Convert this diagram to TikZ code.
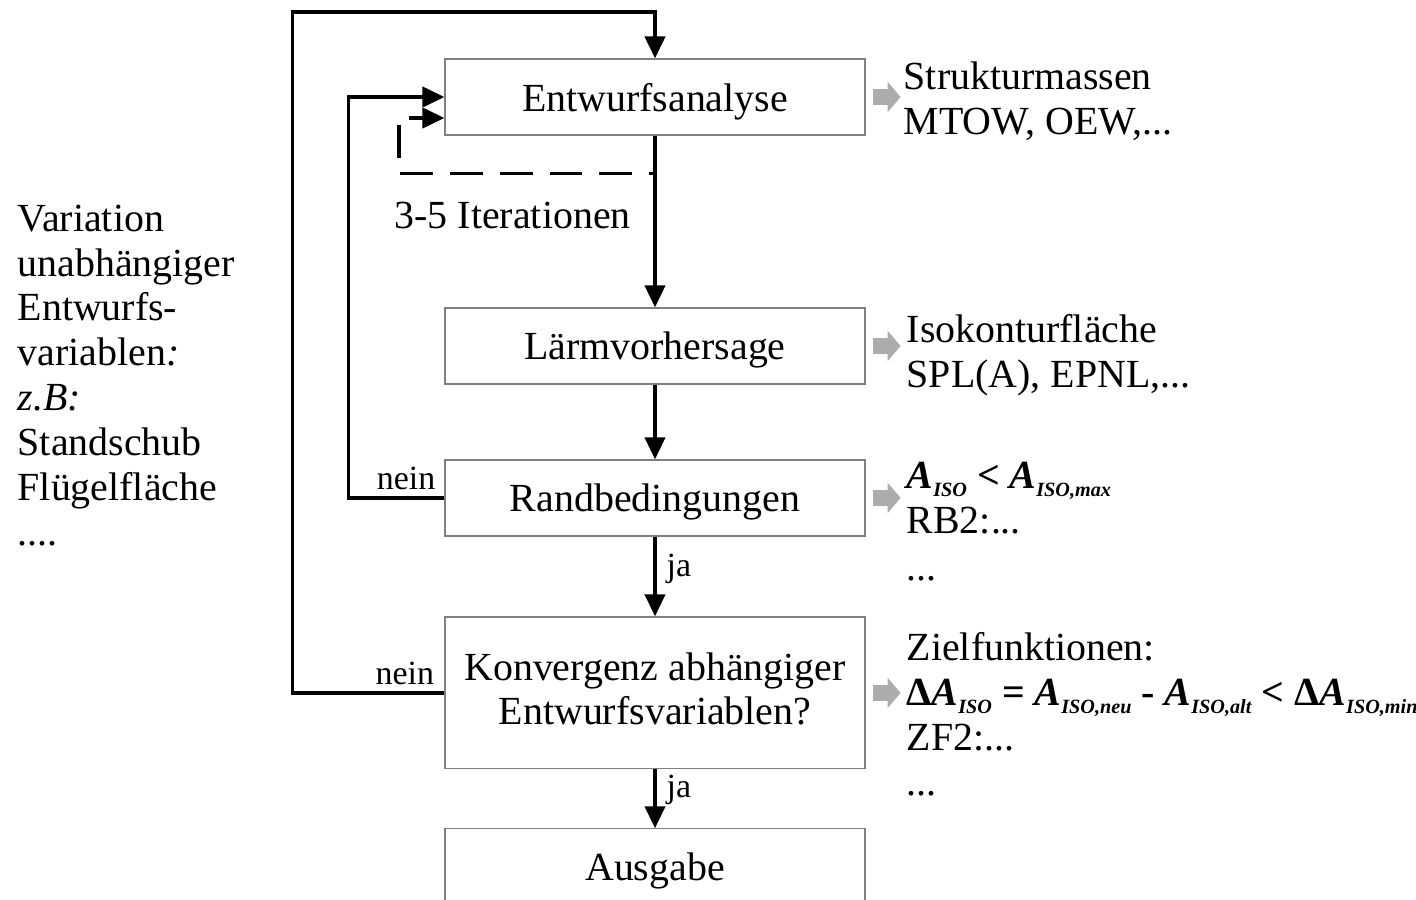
\documentclass[tikz,border=0pt]{standalone}
\usepackage{fontspec}
\setmainfont{Liberation Serif}
\usetikzlibrary{arrows.meta,positioning}

\newcommand{\bigtext}{\fontsize{22.7}{25.5}\selectfont}
\newcommand{\smalltext}{\fontsize{19.3}{22}\selectfont}
\newcommand{\isoA}[1]{\textit{A}\raisebox{-0.45ex}{\fontsize{11.5}{11.5}\selectfont\textit{#1}}}

\begin{document}
\begin{tikzpicture}[x=0.02cm,y=-0.02cm,>={Triangle[length=12.5pt,width=11.5pt]},
                    line width=2pt,node distance=4.98cm,
                    box node/.style={rectangle,draw=gray,line width=0.7pt,minimum width=8.4cm,
                                     minimum height=1.52cm,align=center,text depth=0pt,font=\bigtext},
                    grey arrow/.style={draw=gray!65,line width=9pt,
                                       -{Triangle[length=7.4pt,width=17pt]}},
                    note/.style={anchor=base west,align=left,inner sep=0pt,font=\bigtext},
                    dashed loop/.style={->,dash pattern=on 18.7pt off 9.6pt,dash phase=15.3pt}]
  \clip (0,0) rectangle (1416,899);
  \node[box node] (1) at (655,97) {Entwurfsanalyse};
  \node[box node] (2) [below of=1] {Lärmvorhersage};
  \node[box node] (3) [below of=2,node distance=3.04cm] {Randbedingungen};
  \node[box node,minimum height=3.04cm,text depth=4.9pt] (4) [below of=3,node distance=3.9cm]
       {Konvergenz abhängiger\\Entwurfsvariablen?};
  \node[box node] (5) [below of=4,node distance=3.48cm] {Ausgabe};
  % grey output arrows
  \foreach \n in {1,...,4}
    \draw[grey arrow] ([xshift=0.14cm]\n.east) -- ++(28,0);
  % notes (anchored at the last line)
  \node[note] (r1) at (902,134) {Strukturmassen\\MTOW, OEW,...};
  \node[note] (r2) at (905,387) {Isokonturfläche\\SPL(A), EPNL,...};
  \node[note] (r3) at (905,580) {{\bfseries\isoA{ISO} < \isoA{ISO,max}}\\RB2:...\\[1pt]...};
  \node[note] (r4) at (905,795) {Zielfunktionen:\\
       {\bfseries Δ\isoA{ISO} = \isoA{ISO,neu} - \isoA{ISO,alt} < Δ\isoA{ISO,min}}\\ZF2:...\\...};
  \node[note] (var) at (16,545) {Variation\\unabhängiger\\Entwurfs-\\variablen\textit{:}\\
       \textit{z.B:}\\Standschub\\Flügelfläche\\....};
  \node[note] (it) at (393,228) {3-5 Iterationen};
  % flow
  \path[every node/.style={font=\smalltext,xshift=0.08cm}]
    (1) edge[->] (2)
    (2) edge[->] (3)
    (3) edge[->] node[right,pos=0.4] {ja} (4)
    (4) edge[->] node[right,pos=0.35] {ja} (5);
  \draw[->] (3.west) -- node[above,font=\smalltext,pos=0.4] {nein} ++(-96,0) |- (1.west);
  \draw[->] (4.west) -- node[above,font=\smalltext,pos=0.26] {nein} ++(-152,0)
            -- ++(0,-681) -| (1.north);
  \draw[dashed loop] ([yshift=-0.76cm]1.south) -- ++(-256,0) |- ([yshift=-0.42cm]1.west);
\end{tikzpicture}
\end{document}
